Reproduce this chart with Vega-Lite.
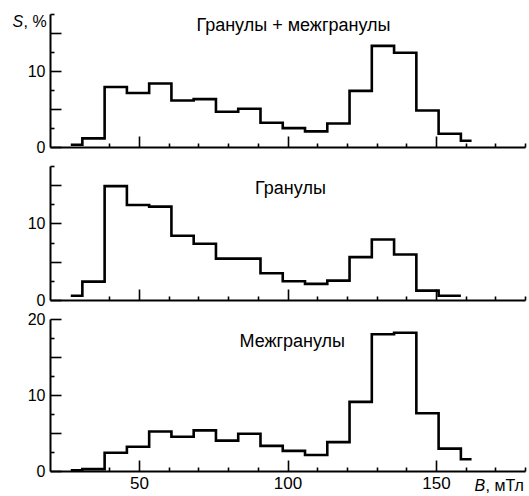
{
  "$schema": "https://vega.github.io/schema/vega-lite/v6.json",
  "padding": {"top": 13, "left": 12, "right": 2, "bottom": 2},
  "background": "white",
  "bounds": "flush",
  "datasets": {
    "top": [
      {"B": 27, "S": 0.3}, {"B": 30.9, "S": 1.13}, {"B": 38.4, "S": 7.9}, {"B": 45.9, "S": 7.1},
      {"B": 53.4, "S": 8.35}, {"B": 60.9, "S": 6.12}, {"B": 68.4, "S": 6.3}, {"B": 75.9, "S": 4.63},
      {"B": 83.4, "S": 5.03}, {"B": 90.9, "S": 3.19}, {"B": 98.4, "S": 2.49}, {"B": 105.9, "S": 2.05},
      {"B": 113.4, "S": 3.1}, {"B": 120.9, "S": 7.39}, {"B": 128.4, "S": 13.3}, {"B": 135.9, "S": 12.4},
      {"B": 143.4, "S": 4.8}, {"B": 150.9, "S": 1.75}, {"B": 158.4, "S": 0.83}, {"B": 162, "S": 0.83}
    ],
    "mid": [
      {"B": 27, "S": 0.56}, {"B": 30.9, "S": 2.4}, {"B": 38.4, "S": 14.87}, {"B": 45.9, "S": 12.4},
      {"B": 53.4, "S": 12.2}, {"B": 60.9, "S": 8.4}, {"B": 68.4, "S": 7.35}, {"B": 75.9, "S": 5.4},
      {"B": 83.4, "S": 5.4}, {"B": 90.9, "S": 3.5}, {"B": 98.4, "S": 2.45}, {"B": 105.9, "S": 2.1},
      {"B": 113.4, "S": 2.53}, {"B": 120.9, "S": 5.6}, {"B": 128.4, "S": 7.9}, {"B": 135.9, "S": 5.95},
      {"B": 143.4, "S": 1.22}, {"B": 150.9, "S": 0.56}, {"B": 158.4, "S": 0.56}
    ],
    "bot": [
      {"B": 27, "S": 0.1}, {"B": 30.9, "S": 0.25}, {"B": 38.4, "S": 2.4}, {"B": 45.9, "S": 3.2},
      {"B": 53.4, "S": 5.2}, {"B": 60.9, "S": 4.5}, {"B": 68.4, "S": 5.35}, {"B": 75.9, "S": 4.0},
      {"B": 83.4, "S": 4.9}, {"B": 90.9, "S": 3.3}, {"B": 98.4, "S": 2.65}, {"B": 105.9, "S": 2.1},
      {"B": 113.4, "S": 3.8}, {"B": 120.9, "S": 9.1}, {"B": 128.4, "S": 18.0}, {"B": 135.9, "S": 18.2},
      {"B": 143.4, "S": 7.6}, {"B": 150.9, "S": 2.95}, {"B": 158.4, "S": 1.55}, {"B": 162, "S": 1.55}
    ],
    "labels": [
      {"panel": "top", "B": 102, "S": 15.2, "label": "Гранулы + межгранулы"},
      {"panel": "mid", "B": 101, "S": 13.8, "label": "Гранулы"},
      {"panel": "bot", "B": 101.6, "S": 16.3, "label": "Межгранулы"}
    ]
  },
  "vconcat": [
    {
      "width": 475, "height": 133,
      "layer": [
        {
          "data": {"name": "top"},
          "mark": {"type": "line", "interpolate": "step-after", "color": "black", "strokeWidth": 2.6},
          "encoding": {
            "x": {"field": "B", "type": "quantitative", "scale": {"domain": [20, 180], "nice": false},
                  "axis": {"orient": "bottom", "values": [50, 100, 150], "tickSize": -11, "labels": false, "title": null}},
            "y": {"field": "S", "type": "quantitative", "scale": {"domain": [0, 17.5], "nice": false},
                  "axis": {"orient": "left", "values": [0, 5, 10, 15], "tickSize": -11, "labelPadding": 16,
                           "labelExpr": "datum.value % 10 == 0 ? datum.label : ''",
                           "title": "S", "titleAngle": 0, "titleFontStyle": "italic", "titleX": -38, "titleY": 12,
                           "titleAlign": "left", "titleBaseline": "alphabetic"}}
          }
        },
        {
          "data": {"name": "labels"},
          "transform": [{"filter": "datum.panel == 'top'"}],
          "mark": {"type": "text", "fontSize": 18, "font": "Liberation Sans", "baseline": "alphabetic", "align": "center", "color": "black"},
          "encoding": {
            "x": {"field": "B", "type": "quantitative",
                  "axis": {"orient": "bottom", "values": [40, 60, 70, 80, 90, 110, 120, 130, 140, 160, 170, 180], "tickSize": -4, "labels": false, "domain": false, "title": null}},
            "y": {"field": "S", "type": "quantitative",
                  "axis": {"orient": "left", "values": [2.5, 7.5, 12.5, 17.5], "tickSize": -4, "labels": false, "domain": false,
                           "title": ", %", "titleAngle": 0, "titleX": -27, "titleY": 12, "titleAlign": "left", "titleBaseline": "alphabetic"}},
            "text": {"field": "label"}
          }
        }
      ],
      "resolve": {"axis": {"x": "independent", "y": "independent"}}
    },
    {
      "width": 475, "height": 134,
      "layer": [
        {
          "data": {"name": "mid"},
          "mark": {"type": "line", "interpolate": "step-after", "color": "black", "strokeWidth": 2.6},
          "encoding": {
            "x": {"field": "B", "type": "quantitative", "scale": {"domain": [20, 180], "nice": false},
                  "axis": {"orient": "bottom", "values": [50, 100, 150], "tickSize": -11, "labels": false, "title": null}},
            "y": {"field": "S", "type": "quantitative", "scale": {"domain": [0, 17.5], "nice": false},
                  "axis": {"orient": "left", "values": [0, 5, 10, 15], "tickSize": -11, "labelPadding": 16,
                           "labelExpr": "datum.value % 10 == 0 ? datum.label : ''", "title": null}}
          }
        },
        {
          "data": {"name": "labels"},
          "transform": [{"filter": "datum.panel == 'mid'"}],
          "mark": {"type": "text", "fontSize": 18, "font": "Liberation Sans", "baseline": "alphabetic", "align": "center", "color": "black"},
          "encoding": {
            "x": {"field": "B", "type": "quantitative",
                  "axis": {"orient": "bottom", "values": [40, 60, 70, 80, 90, 110, 120, 130, 140, 160, 170, 180], "tickSize": -4, "labels": false, "domain": false, "title": null}},
            "y": {"field": "S", "type": "quantitative",
                  "axis": {"orient": "left", "values": [2.5, 7.5, 12.5, 17.5], "tickSize": -4, "labels": false, "domain": false, "title": null}},
            "text": {"field": "label"}
          }
        }
      ],
      "resolve": {"axis": {"x": "independent", "y": "independent"}}
    },
    {
      "width": 475, "height": 152,
      "layer": [
        {
          "data": {"name": "bot"},
          "mark": {"type": "line", "interpolate": "step-after", "color": "black", "strokeWidth": 2.6},
          "encoding": {
            "x": {"field": "B", "type": "quantitative", "scale": {"domain": [20, 180], "nice": false},
                  "axis": {"orient": "bottom", "values": [50, 100, 150], "tickSize": -11, "labelPadding": 15, "labelFontSize": 17,
                           "title": "B", "titleFontStyle": "italic", "titleX": 424, "titleY": 19, "titleAlign": "left", "titleBaseline": "alphabetic"}},
            "y": {"field": "S", "type": "quantitative", "scale": {"domain": [0, 20], "nice": false},
                  "axis": {"orient": "left", "values": [0, 5, 10, 15, 20], "tickSize": -11, "labelPadding": 16,
                           "labelExpr": "datum.value % 10 == 0 ? datum.label : ''", "title": null}}
          }
        },
        {
          "data": {"name": "labels"},
          "transform": [{"filter": "datum.panel == 'bot'"}],
          "mark": {"type": "text", "fontSize": 18, "font": "Liberation Sans", "baseline": "alphabetic", "align": "center", "color": "black"},
          "encoding": {
            "x": {"field": "B", "type": "quantitative",
                  "axis": {"orient": "bottom", "values": [40, 60, 70, 80, 90, 110, 120, 130, 140, 160, 170, 180], "tickSize": -4, "labels": false, "domain": false,
                           "title": ", мТл", "titleX": 435, "titleY": 19, "titleAlign": "left", "titleBaseline": "alphabetic"}},
            "y": {"field": "S", "type": "quantitative",
                  "axis": {"orient": "left", "values": [2.5, 7.5, 12.5, 17.5], "tickSize": -4, "labels": false, "domain": false, "title": null}},
            "text": {"field": "label"}
          }
        }
      ],
      "resolve": {"axis": {"x": "independent", "y": "independent"}}
    }
  ],
  "spacing": 19,
  "config": {
    "view": {"stroke": null},
    "font": "Liberation Sans",
    "axis": {
      "grid": false, "domainColor": "black", "domainWidth": 2, "tickColor": "black", "tickWidth": 1.6,
      "labelColor": "black", "labelFont": "Liberation Sans", "labelFontSize": 16,
      "titleColor": "black", "titleFont": "Liberation Sans", "titleFontSize": 16, "titleFontWeight": "normal"
    }
  }
}
